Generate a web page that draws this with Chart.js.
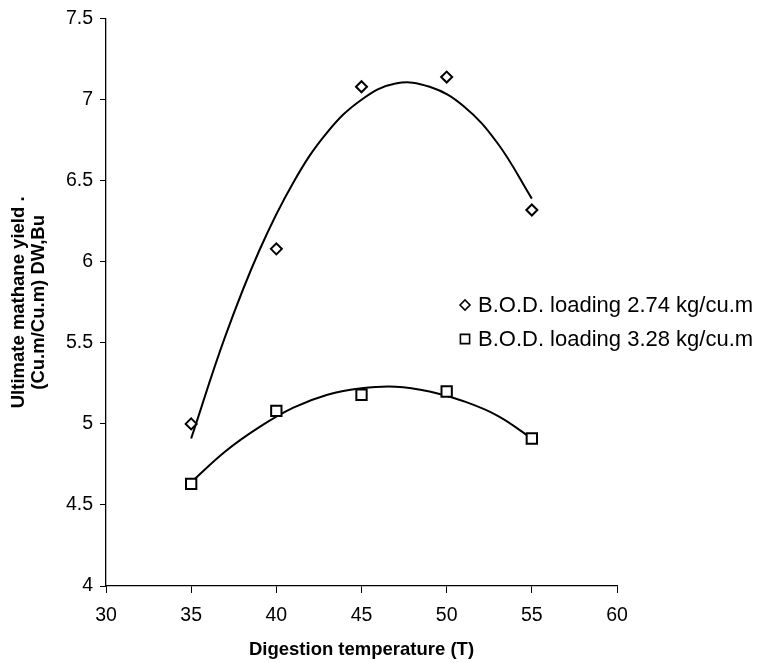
<!DOCTYPE html>
<html>
<head>
<meta charset="utf-8">
<script src="https://cdn.jsdelivr.net/npm/chart.js@4/dist/chart.umd.min.js"></script>
<style>
  html, body { margin: 0; padding: 0; background: #fff; }
</style>
</head>
<body>
<canvas id="yieldChart" width="769" height="663"></canvas>
<script>
// ==============================
// DATA
// ==============================
const temps = [35, 40, 45, 50, 55];
const yieldLoad274 = [5.00, 6.08, 7.08, 7.14, 6.32];
const yieldLoad328 = [4.63, 5.08, 5.18, 5.20, 4.91];

// trend curves, sampled from the drawn lines
const trendTemps = [35, 37, 39, 41, 43, 45, 47, 49, 51, 53, 55];
const trendLoad274 = [4.91, 5.54, 6.07, 6.49, 6.80, 7.00, 7.10, 7.08, 6.96, 6.73, 6.39];
const trendLoad328 = [4.64, 4.83, 4.98, 5.10, 5.18, 5.22, 5.23, 5.20, 5.14, 5.05, 4.91];

const seriesLabels = ["B.O.D. loading 2.74 kg/cu.m", "B.O.D. loading 3.28 kg/cu.m"];
const xTitle = "Digestion temperature (T)";
const yTitle = ["Ultimate mathane yield .", "(Cu.m/Cu.m) DW,Bu"];

const FONT = '"Liberation Sans", Arial, Helvetica, sans-serif';

function toPoints(xs, ys) {
  return xs.map((x, i) => ({ x: x, y: ys[i] }));
}

// ==============================
// LEGEND (drawn inside the plot, right side)
// ==============================
const sideLegend = {
  id: "sideLegend",
  afterDraw(chart) {
    const ctx = chart.ctx;
    const rows = [
      { style: "rectRot", radius: 5, y: 305 },
      { style: "rect", radius: 6.5, y: 339 },
    ];
    ctx.save();
    rows.forEach((row, i) => {
      ctx.fillStyle = "#fff";
      ctx.strokeStyle = "#000";
      ctx.lineWidth = 1.6;
      Chart.helpers.drawPoint(ctx, { pointStyle: row.style, radius: row.radius, rotation: 0, borderWidth: 1.6 }, 465, row.y);
      ctx.fillStyle = "#000";
      ctx.font = "22px " + FONT;
      ctx.textAlign = "left";
      ctx.textBaseline = "middle";
      ctx.fillText(seriesLabels[i], 478, row.y + 1);
    });
    ctx.restore();
  },
};

// ==============================
// CHART
// ==============================
const ctx = document.getElementById("yieldChart").getContext("2d");
const chart = new Chart(ctx, {
  type: "scatter",
  data: {
    datasets: [
      {
        label: seriesLabels[0],
        data: toPoints(temps, yieldLoad274),
        pointStyle: "rectRot",
        pointRadius: 5.5,
        pointBorderWidth: 2,
        pointBorderColor: "#000",
        pointBackgroundColor: "#fff",
        showLine: false,
      },
      {
        label: seriesLabels[1],
        data: toPoints(temps, yieldLoad328),
        pointStyle: "rect",
        pointRadius: 7.3,
        pointBorderWidth: 2,
        pointBorderColor: "#000",
        pointBackgroundColor: "#fff",
        showLine: false,
      },
      {
        label: "trend 2.74",
        data: toPoints(trendTemps, trendLoad274),
        showLine: true,
        borderColor: "#000",
        borderWidth: 2,
        tension: 0.4,
        pointRadius: 0,
      },
      {
        label: "trend 3.28",
        data: toPoints(trendTemps, trendLoad328),
        showLine: true,
        borderColor: "#000",
        borderWidth: 2,
        tension: 0.4,
        pointRadius: 0,
      },
    ],
  },
  options: {
    responsive: false,
    animation: false,
    layout: { padding: { left: 0, top: 16, right: 152, bottom: 0 } },
    plugins: {
      legend: { display: false },
      tooltip: { enabled: false },
    },
    scales: {
      x: {
        type: "linear",
        min: 30,
        max: 60,
        ticks: { stepSize: 5, color: "#000", padding: 11, font: { family: FONT, size: 19.5 } },
        grid: { drawOnChartArea: false, drawTicks: true, tickLength: 7, color: "#000" },
        border: { color: "#000", width: 1.3 },
        title: {
          display: true,
          text: xTitle,
          color: "#000",
          padding: { top: 0, bottom: 2 },
          font: { family: FONT, size: 18.5, weight: "bold" },
        },
        afterFit(scale) { scale.height = 77; },
      },
      y: {
        min: 4,
        max: 7.5,
        ticks: {
          stepSize: 0.5,
          color: "#000",
          padding: 7,
          font: { family: FONT, size: 19.5 },
          callback: (v) => String(Math.round(v * 10) / 10),
        },
        grid: { drawOnChartArea: false, drawTicks: true, tickLength: 6, color: "#000" },
        border: { color: "#000", width: 1.3 },
        title: {
          display: true,
          text: yTitle,
          color: "#000",
          padding: { top: 9, bottom: 0 },
          font: { family: FONT, size: 18.5, weight: "bold", lineHeight: 1.08 },
        },
        afterFit(scale) { scale.width = 106; },
      },
    },
  },
  plugins: [sideLegend],
});
</script>
</body>
</html>
